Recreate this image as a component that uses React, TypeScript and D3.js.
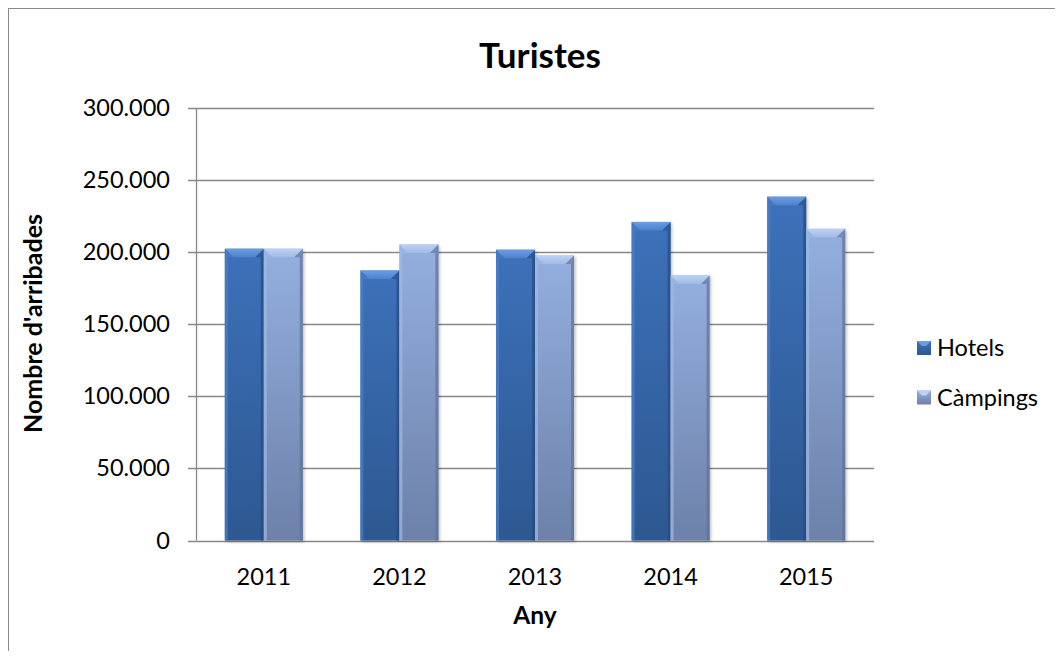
import React from "react";
import * as d3 from "d3";

const years = ["2011", "2012", "2013", "2014", "2015"];
const hotels = [202400, 187300, 201700, 221000, 238500];
const campings = [202400, 205300, 197700, 183900, 216200];
const seriesNames = ["Hotels", "Càmpings"];
const yTicks = [0, 50000, 100000, 150000, 200000, 250000, 300000];
const chartTitle = "Turistes";
const xTitle = "Any";
const yTitle = "Nombre d'arribades";

const W = 1047;
const H = 643;
const OFF = 8; // page offset (body margin)

const plotLeft = 196;
const plotRight = 874;
const plotTop = 108;
const plotBottom = 540.5;

const locale = d3.formatLocale({ decimal: ",", thousands: ".", grouping: [3], currency: ["", "€"] });
const fmt = locale.format(",");

const FONT = "Lato, 'Noto Sans', sans-serif";
const GRID = "#888888";

const palettes = [
  { top: "#3D71BA", bottom: "#2D5891", bevelTop: "#6C9DDF", bevelBot: "#4C82CE", left: "#4A7FC9", right: "#264C80" },
  { top: "#94AFDF", bottom: "#6D81A9", bevelTop: "#BCD1F4", bevelBot: "#A2BBE6", left: "#A0B9E4", right: "#5E7299" },
];

function Bar({ x, y, w, h, si }: { x: number; y: number; w: number; h: number; si: number }) {
  const b = Math.min(8.5, h / 2);
  const s = 3;
  return (
    <g>
      <rect x={x + 1.5} y={y + 1.5} width={w} height={h} fill="#000" opacity={0.25} filter="url(#blur)" />
      <rect x={x} y={y} width={w} height={h} fill={`url(#main${si})`} />
      <polygon points={`${x},${y} ${x + s},${y + b} ${x + s},${y + h} ${x},${y + h}`} fill={palettes[si].left} opacity={0.7} />
      <polygon points={`${x + w},${y} ${x + w - s},${y + b} ${x + w - s},${y + h} ${x + w},${y + h}`} fill={palettes[si].right} opacity={0.7} />
      <polygon points={`${x},${y} ${x + w},${y} ${x + w - b},${y + b} ${x + b},${y + b}`} fill={`url(#bevel${si})`} />
      <polygon points={`${x},${y} ${x + b},${y + b} ${x + s},${y + b}`} fill={palettes[si].left} opacity={0.6} />
      <polygon points={`${x + w},${y} ${x + w - b},${y + b} ${x + w - s},${y + b}`} fill={palettes[si].right} opacity={0.6} />
    </g>
  );
}

export default function App() {
  const x0 = d3.scaleBand<string>().domain(years).range([plotLeft, plotRight]).paddingInner(0.425).paddingOuter(0.2125);
  const x1 = d3.scaleBand<number>().domain([0, 1]).range([0, x0.bandwidth()]);
  const y = d3.scaleLinear().domain([0, 300000]).range([plotBottom, plotTop]);
  const series = [hotels, campings];

  return (
    <svg width={W} height={H} style={{ display: "block" }}>
      <defs>
        {palettes.map((p, i) => (
          <React.Fragment key={i}>
            <linearGradient id={`main${i}`} x1="0" y1="0" x2="0" y2="1">
              <stop offset="0" stopColor={p.top} />
              <stop offset="1" stopColor={p.bottom} />
            </linearGradient>
            <linearGradient id={`bevel${i}`} x1="0" y1="0" x2="0" y2="1">
              <stop offset="0" stopColor={p.bevelTop} />
              <stop offset="1" stopColor={p.bevelBot} />
            </linearGradient>
          </React.Fragment>
        ))}
        <filter id="blur" x="-20%" y="-20%" width="140%" height="140%">
          <feGaussianBlur stdDeviation="1.5" />
        </filter>
      </defs>
      <g transform={`translate(${-OFF},${-OFF})`}>
        <rect x={8.5} y={8.5} width={1200} height={800} fill="#fff" stroke="#8a8a8a" strokeWidth={1} />
        <text x={540} y={68} textAnchor="middle" fontFamily={FONT} fontWeight="bold" fontSize={35} fill="#000">
          {chartTitle}
        </text>
        {yTicks.map((t) => (
          <g key={t}>
            <line x1={plotLeft - 8} x2={plotRight} y1={Math.round(y(t)) + 0.5} y2={Math.round(y(t)) + 0.5} stroke={GRID} strokeWidth={1.3} />
            <text x={170} y={y(t) + 8} textAnchor="end" fontFamily={FONT} fontSize={23.5} fill="#000">
              {fmt(t)}
            </text>
          </g>
        ))}
        <line x1={plotLeft + 0.5} x2={plotLeft + 0.5} y1={plotTop} y2={plotBottom} stroke={GRID} strokeWidth={1.3} />
        {years.map((yr, i) =>
          series.map((vals, si) => {
            const bx = (x0(yr) as number) + (x1(si) as number);
            const by = y(vals[i]);
            return <Bar key={yr + si} x={bx} y={by} w={x1.bandwidth()} h={plotBottom - by} si={si} />;
          })
        )}
        {years.map((yr) => (
          <text key={yr} x={(x0(yr) as number) + x0.bandwidth() / 2} y={585} textAnchor="middle" fontFamily={FONT} fontSize={23.5} fill="#000">
            {yr}
          </text>
        ))}
        <text x={(plotLeft + plotRight) / 2} y={624} textAnchor="middle" fontFamily={FONT} fontWeight="bold" fontSize={24.5} fill="#000">
          {xTitle}
        </text>
        <text transform={`translate(42,${323.5}) rotate(-90)`} textAnchor="middle" fontFamily={FONT} fontWeight="bold" fontSize={25} fill="#000">
          {yTitle}
        </text>
        {seriesNames.map((n, si) => {
          const cy = 348 + si * 49.5;
          return (
            <g key={n}>
              <rect x={917} y={cy - 7} width={14} height={14} fill={`url(#main${si})`} />
              <polygon points={`917,${cy - 7} 931,${cy - 7} 926,${cy - 2} 922,${cy - 2}`} fill={palettes[si].bevelTop} />
              <text x={937} y={cy + 8} fontFamily={FONT} fontSize={23.5} fill="#000">
                {n}
              </text>
            </g>
          );
        })}
      </g>
    </svg>
  );
}
